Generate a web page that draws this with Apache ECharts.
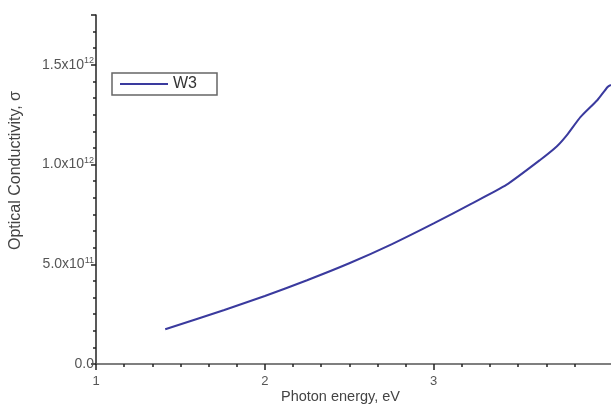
<!DOCTYPE html>
<html>
<head>
<meta charset="utf-8">
<script src="https://cdn.jsdelivr.net/npm/echarts@6/dist/echarts.min.js"></script>
<style>html,body{margin:0;padding:0;background:#fff}#c{width:611px;height:406px}</style>
</head>
<body>
<div id="c"></div>
<script>
const seriesName = 'W3';
const energy = [1.41, 1.76, 2.00, 2.25, 2.50, 2.75, 3.00, 3.23, 3.43, 3.63, 3.73, 3.79, 3.87, 3.97, 4.03, 4.05];
const sigma = [1.74e11, 2.71e11, 3.41e11, 4.20e11, 5.05e11, 6.00e11, 7.05e11, 8.07e11, 8.98e11, 1.023e12, 1.092e12, 1.149e12, 1.239e12, 1.324e12, 1.389e12, 1.399e12];
const yTickLabels = {0: '0.0', 5e11: '5.0x10', 1e12: '1.0x10', 1.5e12: '1.5x10'};
const yTickExp = {5e11: '11', 1e12: '12', 1.5e12: '12'};
const xTickValues = [1, 2, 3];

const chart = echarts.init(document.getElementById('c'));
chart.setOption({
  animation: false,
  grid: {left: 96, right: 0, top: 15, bottom: 42, outerBoundsMode: 'none', containLabel: false},
  legend: {
    left: 112, top: 73,
    data: [{name: seriesName, icon: 'rect'}],
    borderColor: '#666', borderWidth: 1.5, padding: [3, 20, 3, 8],
    itemWidth: 48, itemHeight: 2, itemGap: 4,
    textStyle: {fontFamily: 'Liberation Sans', fontSize: 16, color: '#333', padding: [0, 0, 0, 0]}
  },
  xAxis: {
    type: 'value', min: 1, max: 4.05, interval: 1,
    name: 'Photon energy, eV', nameLocation: 'middle', nameGap: 25, nameMoveOverlap: false,
    nameTextStyle: {fontFamily: 'Liberation Sans', fontSize: 14.5, color: '#444', padding: [0, 26, 0, 0]},
    axisLine: {onZero: false, lineStyle: {color: '#555', width: 1.5}},
    axisTick: {inside: false, length: 6, lineStyle: {color: '#222', width: 1.5}, customValues: xTickValues},
    minorTick: {show: true, splitNumber: 6, length: 3, lineStyle: {color: '#222', width: 1.5}},
    axisLabel: {fontFamily: 'Liberation Sans', fontSize: 13, color: '#555', margin: 11, customValues: xTickValues},
    splitLine: {show: false}
  },
  yAxis: {
    type: 'value', min: 0, max: 1.75e12, interval: 5e11,
    name: 'Optical Conductivity, σ', nameLocation: 'middle', nameGap: 72, nameMoveOverlap: false,
    nameTextStyle: {fontFamily: 'Liberation Sans', fontSize: 16, color: '#444', padding: [0, 0, 0, 38]},
    axisLine: {lineStyle: {color: '#222', width: 1.5}},
    axisTick: {inside: false, length: 5, lineStyle: {color: '#222', width: 1.5}},
    minorTick: {show: true, splitNumber: 6, length: 3, lineStyle: {color: '#222', width: 1.5}},
    axisLabel: {
      margin: 2,
      formatter: function (v) {
        const base = yTickLabels[v];
        if (base === undefined) return '';
        const e = yTickExp[v];
        return e ? '{b|' + base + '}{s|' + e + '}' : '{b|' + base + '}';
      },
      rich: {
        b: {fontFamily: 'Liberation Sans', fontSize: 14, color: '#555'},
        s: {fontFamily: 'Liberation Sans', fontSize: 9, color: '#555', verticalAlign: 'top', padding: [0, 0, 8, 0]}
      }
    },
    splitLine: {show: false}
  },
  series: [{
    name: seriesName, type: 'line', symbol: 'none', smooth: 0.2,
    lineStyle: {color: '#3a3a9e', width: 2},
    itemStyle: {color: '#3a3a9e'},
    data: energy.map((e, i) => [e, sigma[i]])
  }]
});
</script>
</body>
</html>
